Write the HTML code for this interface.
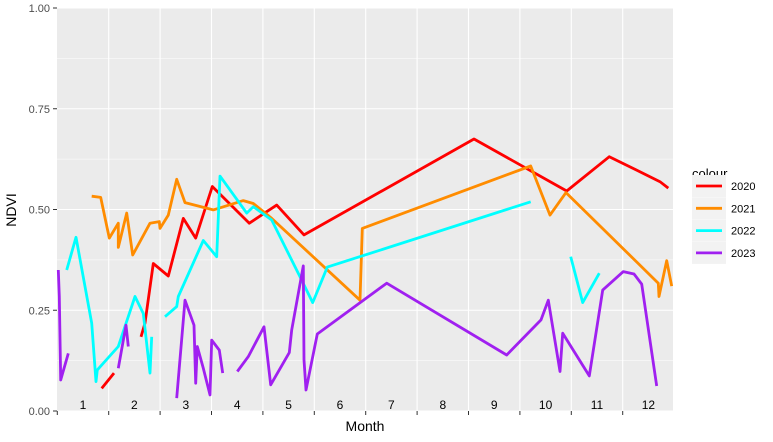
<!DOCTYPE html>
<html><head><meta charset="utf-8"><style>
body{margin:0;background:#fff;}
svg{display:block;font-family:"Liberation Sans",Arial,sans-serif;}
</style></head><body>
<svg id="chart" width="773" height="442" viewBox="0 0 773 442">
<rect x="0" y="0" width="773" height="442" fill="#fff"/>
<rect x="57" y="8" width="616" height="403" fill="#ebebeb"/>
<g id="grid"></g>
<g id="monthLabels"></g>
<g id="series"></g>
<g id="axes"></g>
<text x="16" y="210" font-size="14" fill="#000" text-anchor="middle" transform="rotate(-90 16 210)">NDVI</text>
<text x="365" y="431" font-size="14" fill="#000" text-anchor="middle">Month</text>
<g id="legend">
<text x="692" y="178" font-size="13" fill="#000">colour</text>
</g>
</svg>
<script>
const yTicks=[0,0.25,0.5,0.75,1];
const yTickLabels=["0.00","0.25","0.50","0.75","1.00"];
const monthTicks=[1,2,3,4,5,6,7,8,9,10,11,12,13];
const monthNames=["1","2","3","4","5","6","7","8","9","10","11","12"];
const seriesNames=["2020","2021","2022","2023"];
const seriesColors=["#ff0000","#ff8c00","#00ffff","#a020f0"];
const months2020=[1.864,2.103,null,2.628,2.706,2.868,3.160,3.451,3.693,4.016,4.735,5.268,5.800,9.107,10.911,11.739,12.726,12.887];
const ndvi2020=[0.056,0.094,null,0.184,0.218,0.366,0.335,0.478,0.429,0.557,0.466,0.511,0.437,0.675,0.546,0.631,0.569,0.553];
const months2021=[1.669,1.844,2.012,2.187,2.187,2.350,2.467,2.804,2.984,2.998,3.160,3.323,3.484,4.035,4.619,4.813,5.171,6.889,6.934,10.210,10.585,10.897,12.693,12.706,12.856,12.953];
const ndvi2021=[0.533,0.530,0.429,0.466,0.406,0.491,0.387,0.466,0.470,0.453,0.486,0.575,0.517,0.499,0.522,0.515,0.478,0.275,0.453,0.608,0.486,0.542,0.317,0.284,0.373,0.310];
const months2022=[1.183,1.364,1.669,1.753,1.778,2.187,2.512,2.673,2.804,2.837,null,3.095,3.323,3.354,3.840,4.101,4.165,4.685,4.813,5.171,5.722,5.969,6.253,10.210,null,10.988,11.222,11.545];
const ndvi2022=[0.350,0.431,0.218,0.073,0.102,0.160,0.284,0.242,0.094,0.184,null,0.234,0.259,0.284,0.423,0.383,0.583,0.491,0.507,0.474,0.333,0.269,0.357,0.519,null,0.383,0.269,0.342];
const months2023=[1.019,1.039,1.066,1.214,null,2.187,2.337,2.381,null,3.323,3.484,3.660,3.693,3.724,3.840,3.971,4.004,4.152,4.218,null,4.502,4.716,5.021,5.152,5.514,5.560,5.786,5.800,5.839,6.058,7.409,9.743,10.411,10.553,10.780,10.833,11.350,11.611,12.012,12.220,12.370,12.661];
const ndvi2023=[0.350,0.284,0.077,0.143,null,0.106,0.213,0.160,null,0.032,0.275,0.213,0.069,0.160,0.106,0.040,0.176,0.151,0.094,null,0.098,0.135,0.209,0.065,0.145,0.201,0.360,0.127,0.052,0.191,0.317,0.139,0.226,0.275,0.098,0.193,0.087,0.300,0.346,0.340,0.315,0.062];
const allMonths=[months2020,months2021,months2022,months2023];
const allNdvi=[ndvi2020,ndvi2021,ndvi2022,ndvi2023];

const NS="http://www.w3.org/2000/svg";
const X0=57.3, MW=51.4, Y0=411, YH=403, PL=57, PR=673;
function xs(m){return X0+(m-1)*MW;}
function ys(v){return Y0-v*YH;}
function mk(tag,attrs,parent){const e=document.createElementNS(NS,tag);for(const k in attrs)e.setAttribute(k,attrs[k]);parent.appendChild(e);return e;}

const grid=document.getElementById('grid');
for(let i=0;i<yTicks.length-1;i++){
  const v=(yTicks[i]+yTicks[i+1])/2;
  const l=mk('line',{x1:PL,x2:PR,y1:ys(v),y2:ys(v),stroke:'#fff','stroke-width':0.6},grid);
  
  
}
yTicks.forEach(v=>{
  const l=mk('line',{x1:PL,x2:PR,y1:ys(v),y2:ys(v),stroke:'#fff','stroke-width':1.1},grid);
  
  
});
monthTicks.forEach(m=>{
  if(xs(m)>PL+2&&xs(m)<PR){
  const l=mk('line',{x1:xs(m),x2:xs(m),y1:8,y2:411,stroke:'#fff','stroke-width':1.1},grid);
  
  }
});

const ml=document.getElementById('monthLabels');
monthNames.forEach((n,i)=>{
  const t=mk('text',{x:xs(i+1.5),y:409,'font-size':12,'text-anchor':'middle',fill:'#000'},ml);
  t.textContent=n;
  
  
});

const ser=document.getElementById('series');
allMonths.forEach((ms,si)=>{
  let d='',pen=false;
  ms.forEach((m,i)=>{
    const v=allNdvi[si][i];
    if(m===null||v===null){pen=false;return;}
    d+=(pen?'L':'M')+xs(m).toFixed(1)+' '+ys(v).toFixed(1)+' ';
    pen=true;
  });
  const p=mk('path',{d:d,fill:'none',stroke:seriesColors[si],'stroke-width':2.8,'stroke-linejoin':'round'},ser);
  
  
});

const ax=document.getElementById('axes');
yTicks.forEach((v,i)=>{
  const tk=mk('line',{x1:53,x2:57,y1:ys(v),y2:ys(v),stroke:'#333','stroke-width':1},ax);
  
  
  const t=mk('text',{x:50,y:ys(v)+4,'font-size':11,'text-anchor':'end',fill:'#4d4d4d'},ax);
  t.textContent=yTickLabels[i];
  
  
});
monthTicks.forEach(m=>{
  if(xs(m)<=PR){
  const tk=mk('line',{x1:xs(m),x2:xs(m),y1:411,y2:415,stroke:'#333','stroke-width':1},ax);
  
  }
});

const lg=document.getElementById('legend');
seriesNames.forEach((n,i)=>{
  const y=186+i*22.3;
  const bg=mk('rect',{x:692,y:y-11,width:34,height:22,fill:'#f2f2f2'},lg);
  
  
  const l=mk('line',{x1:696,x2:722,y1:y,y2:y,stroke:seriesColors[i],'stroke-width':2.8},lg);
  
  
  const t=mk('text',{x:731,y:y+4,'font-size':11,fill:'#000'},lg);
  t.textContent=n;
  
  
});
</script>
</body></html>
